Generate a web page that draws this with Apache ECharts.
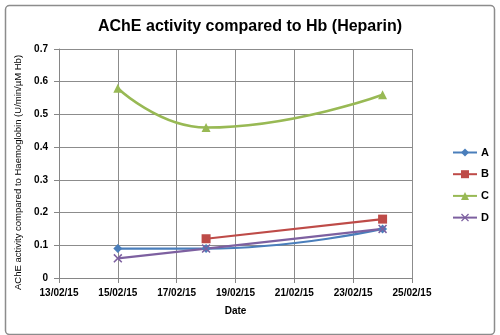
<!DOCTYPE html>
<html>
<head>
<meta charset="utf-8">
<script src="https://cdn.jsdelivr.net/npm/echarts@6/dist/echarts.min.js"></script>
<style>
html,body{margin:0;padding:0;background:#fff;}
#c{width:500px;height:335px;}
</style>
</head>
<body>
<div id="c"></div>
<script>
// Data
var startDate = '13/02/15';
var endDate = '25/02/15';
var datesA = ['15/02/15', '18/02/15', '24/02/15'];
var valuesA = [0.09, 0.09, 0.15];
var datesB = ['18/02/15', '24/02/15'];
var valuesB = [0.12, 0.18];
var datesC = ['15/02/15', '18/02/15', '24/02/15'];
var valuesC = [0.58, 0.46, 0.56];
var datesD = ['15/02/15', '18/02/15', '24/02/15'];
var valuesD = [0.06, 0.09, 0.15];
var seriesNames = ['A', 'B', 'C', 'D'];
var yTicks = [0, 0.1, 0.2, 0.3, 0.4, 0.5, 0.6, 0.7];

function toDay(s) {
  var p = s.split('/');
  return Date.UTC(2000 + (+p[2]), (+p[1]) - 1, +p[0]) / 86400000;
}
var day0 = toDay(startDate);
function dayIdx(s) { return toDay(s) - day0; }
function fmt(v) {
  var d = new Date((day0 + v) * 86400000);
  var dd = ('0' + d.getUTCDate()).slice(-2);
  var mm = ('0' + (d.getUTCMonth() + 1)).slice(-2);
  var yy = ('0' + (d.getUTCFullYear() % 100)).slice(-2);
  return dd + '/' + mm + '/' + yy;
}
function pairs(ds, vs) { return ds.map(function (d, i) { return [dayIdx(d), vs[i]]; }); }

var xPath = 'path://M0,1.2L1.2,0L5,3.8L8.8,0L10,1.2L6.2,5L10,8.8L8.8,10L5,6.2L1.2,10L0,8.8L3.8,5Z';
var colors = ['#4a7ebb', '#be4b48', '#98b954', '#7d60a0'];
var font = 'Liberation Sans';

var chart = echarts.init(document.getElementById('c'));
chart.setOption({
  animation: false,
  color: colors,
  title: {
    text: 'AChE activity compared to Hb (Heparin)',
    left: 'center', top: 14,
    textStyle: { fontFamily: font, fontSize: 16, fontWeight: 'bold', color: '#000' }
  },
  graphic: [{
    type: 'rect', left: 3, top: 3,
    shape: { width: 489, height: 329, r: 4 },
    style: { fill: 'none', stroke: '#8c8c8c', lineWidth: 1.5 },
    z: -1
  }],
  legend: {
    orient: 'vertical', left: 447, top: 142,
    itemWidth: 24, itemHeight: 10, itemGap: 10.7,
    data: seriesNames,
    textStyle: { fontFamily: font, fontSize: 11, fontWeight: 'bold', color: '#000', padding: [0, 0, 0, -1], lineHeight: 10 }
  },
  grid: { left: 59, top: 49, width: 353, height: 229, containLabel: false },
  xAxis: {
    type: 'value', min: 0, max: dayIdx(endDate), interval: 2,
    name: 'Date', nameLocation: 'middle', nameGap: 28,
    nameTextStyle: { fontFamily: font, fontSize: 10, fontWeight: 'bold', color: '#000' },
    axisLine: { show: true, lineStyle: { color: '#868686', width: 1 } },
    axisTick: { show: true, length: 5, lineStyle: { color: '#868686' } },
    axisLabel: { formatter: fmt, fontFamily: font, fontSize: 10, fontWeight: 'bold', color: '#000', margin: 10 },
    splitLine: { show: true, lineStyle: { color: '#8c8c8c', width: 1 } }
  },
  yAxis: {
    type: 'value', min: yTicks[0], max: yTicks[yTicks.length - 1], interval: 0.1,
    name: 'AChE activity compared to Haemoglobin (U/min/µM Hb)',
    nameLocation: 'middle', nameGap: 31,
    nameTextStyle: { fontFamily: font, fontSize: 9.5, color: '#000', padding: [0, 18, 0, 0] },
    axisLine: { show: true, lineStyle: { color: '#868686', width: 1 } },
    axisTick: { show: true, length: 5, lineStyle: { color: '#868686' } },
    axisLabel: { fontFamily: font, fontSize: 10, fontWeight: 'bold', color: '#000', margin: 11 },
    splitLine: { show: true, lineStyle: { color: '#8c8c8c', width: 1 } }
  },
  series: [
    { name: 'A', type: 'line', smooth: 0.5, data: pairs(datesA, valuesA),
      symbol: 'diamond', symbolSize: 9, lineStyle: { width: 2.2 } },
    { name: 'B', type: 'line', smooth: 0.5, data: pairs(datesB, valuesB),
      symbol: 'rect', symbolSize: 9, lineStyle: { width: 2.2 } },
    { name: 'C', type: 'line', smooth: 0.5, data: pairs(datesC, valuesC),
      symbol: 'triangle', symbolSize: 9, lineStyle: { width: 2.5 } },
    { name: 'D', type: 'line', smooth: 0.5, data: pairs(datesD, valuesD),
      symbol: xPath, symbolSize: 9, lineStyle: { width: 2.2 } }
  ]
});
</script>
</body>
</html>
